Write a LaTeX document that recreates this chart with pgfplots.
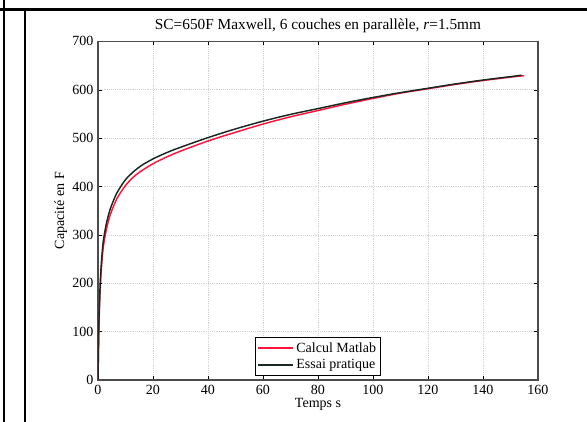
\documentclass[border=0pt]{standalone}
\usepackage{pgfplots}
\pgfplotsset{compat=1.18}
\usepackage{fontspec}
\setmainfont{Liberation Serif}
\definecolor{essai}{RGB}{25,40,32}
\definecolor{calc}{RGB}{255,20,60}
\begin{document}
\begin{tikzpicture}
\useasboundingbox (0,0) rectangle (440.25pt,316.5pt);
\draw[line width=2.4pt] (0,309.5pt) -- (440.25pt,309.5pt);
\draw[line width=1.8pt] (3pt,0) -- (3pt,316.5pt);
\draw[line width=1.8pt] (18.75pt,0) -- (18.75pt,309.5pt);
\begin{axis}[
  at={(73.5pt,31.5pt)}, anchor=south west,
  scale only axis, width=330pt, height=254pt,
  xmin=0, xmax=160, ymin=0, ymax=700,
  xtick={0,20,...,160}, ytick={0,100,...,700},
  grid=major,
  major grid style={densely dotted, gray!35},
  tick align=inside, tick pos=both,
  major tick length=3pt,
  axis line style={line width=0.9pt, gray!60!black},
  tick style={black},
  every tick label/.append style={font=\fontsize{10.5}{12}\selectfont},
  /pgf/number format/assume math mode=true,
  title={SC=650F Maxwell, 6 couches en parallèle, \textit{r}=1.5mm},
  title style={font=\fontsize{11.5}{13}\selectfont, yshift=-3pt},
  xlabel={Temps s}, ylabel={Capacité en F},
  label style={font=\fontsize{10.5}{12}\selectfont},
  xlabel style={yshift=4pt}, ylabel style={yshift=-3pt},
  legend style={at={(0.5,0.012)}, anchor=south, font=\fontsize{10.5}{13}\selectfont,
    draw=black, line width=0.9pt, inner sep=1.5pt, row sep=0pt},
  legend cell align=left,
  legend image code/.code={\draw[#1, line width=1.3pt] (0pt,0pt) -- (26pt,0pt);},
]
\addplot[calc, line width=1.1pt, smooth] coordinates {
(0,0) (0.3,100) (0.6,160) (1,210) (1.5,250) (2,278) (3,310) (4,333) (5,350) (7,376) (10,402) (13,420) (16,433) (20,447) (25,461) (30,473) (40,494) (50,512) (60,529) (70,544) (80,557) (90,570) (100,582) (110,593) (120,602) (130,611) (140,619) (150,626) (155,629)
};
\addlegendentry{Calcul Matlab}
\addplot[essai, line width=1.1pt, smooth] coordinates {
(0,0) (0.3,110) (0.6,170) (1,222) (1.5,262) (2,290) (3,322) (4,345) (5,362) (7,388) (10,414) (13,431) (16,444) (20,457) (25,470) (30,481) (40,501) (50,519) (60,535) (70,549) (80,561) (90,573) (100,584) (110,594) (120,603) (130,612) (140,620) (150,627) (154,630)
};
\addlegendentry{Essai pratique}
\end{axis}
\end{tikzpicture}
\end{document}
